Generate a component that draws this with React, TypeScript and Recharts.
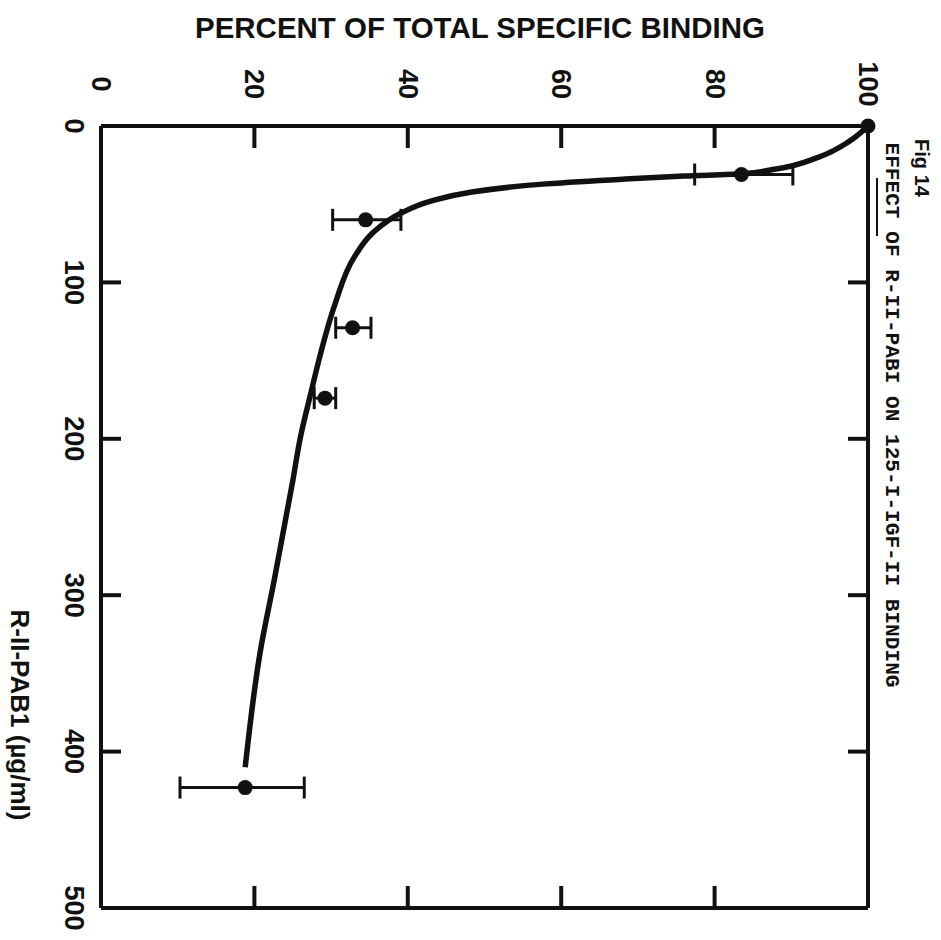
import React from 'react';
import { ComposedChart, Line, Scatter, XAxis, YAxis, ErrorBar } from 'recharts';

// Percent of total specific binding ticks (horizontal axis in the rotated figure)
const percentTicks = [0, 20, 40, 60, 80, 100];
// R-II-PAB1 concentration ticks (µg/ml, vertical axis)
const concTicks = [0, 100, 200, 300, 400, 500];

// Control point (no antibody)
const controlPoint = [{ conc: 0, pct: 100 }];

// Measured points with horizontal error bars [lower delta, upper delta]
const measuredConc = [31, 60, 129, 174, 423];
const measuredPct = [83.5, 34.5, 32.8, 29.2, 18.8];
const measuredErr: [number, number][] = [
  [6.1, 6.7],
  [4.3, 4.6],
  [2.2, 2.4],
  [1.4, 1.4],
  [8.5, 7.7],
];

// Hand-drawn fitted curve
const curveConc = [0, 10, 20, 27.5, 30.5, 32, 34, 37, 42.5, 48, 56, 68, 84, 114, 146, 170, 199, 227, 290, 335, 410];
const curvePct = [100, 97.5, 93.5, 88, 83.5, 76, 68, 58, 48, 43, 39, 35.5, 33, 30.5, 28.6, 27.4, 26, 25, 22.6, 20.8, 18.8];

const measured = measuredConc.map((c, i) => ({ conc: c, pct: measuredPct[i], err: measuredErr[i] }));
const curve = curveConc.map((c, i) => ({ conc: c, pct: curvePct[i] }));

const INK = '#111';
const LABEL_FONT = '"Liberation Sans", Arial, sans-serif';

const isInner = (v: number, ticks: number[]) => v !== ticks[0] && v !== ticks[ticks.length - 1];

const TopTick = (props: any) => {
  const { x, y, payload } = props;
  const v = payload.value;
  const ly = y - 42;
  return (
    <g>
      {isInner(v, percentTicks) && <line x1={x} y1={y} x2={x} y2={y + 22} stroke={INK} strokeWidth={4} />}
      <text
        x={x}
        y={ly}
        transform={`rotate(90, ${x}, ${ly})`}
        textAnchor="middle"
        dominantBaseline="central"
        fontFamily={LABEL_FONT}
        fontWeight="bold"
        fontSize={27}
        fill={INK}
      >
        {v}
      </text>
    </g>
  );
};

const BottomTick = (props: any) => {
  const { x, y, payload } = props;
  const v = payload.value;
  return (
    <g>
      {isInner(v, percentTicks) && <line x1={x} y1={y} x2={x} y2={y - 22} stroke={INK} strokeWidth={4} />}
    </g>
  );
};

const LeftTick = (props: any) => {
  const { x, y, payload } = props;
  const v = payload.value;
  const lx = x - 27;
  return (
    <g>
      {isInner(v, concTicks) && <line x1={x} y1={y} x2={x + 20} y2={y} stroke={INK} strokeWidth={4} />}
      <text
        x={lx}
        y={y}
        transform={`rotate(90, ${lx}, ${y})`}
        textAnchor="middle"
        dominantBaseline="central"
        fontFamily={LABEL_FONT}
        fontWeight="bold"
        fontSize={27}
        fill={INK}
      >
        {v}
      </text>
    </g>
  );
};

const RightTick = (props: any) => {
  const { x, y, payload } = props;
  const v = payload.value;
  return (
    <g>
      {isInner(v, concTicks) && <line x1={x} y1={y} x2={x - 20} y2={y} stroke={INK} strokeWidth={4} />}
    </g>
  );
};

const Dot = (p: any) => <circle cx={p.cx} cy={p.cy} r={7.5} fill={INK} />;
const NoShape = () => <g />;

export default function App() {
  const W = 941;
  const H = 940;
  return (
    <div style={{ position: 'absolute', left: 0, top: 0, width: W, height: H, background: '#fff' }}>
      <ComposedChart
        width={W}
        height={H}
        layout="vertical"
        margin={{ top: 86, left: 61, right: 43, bottom: 2 }}
      >
        <XAxis
          xAxisId="top"
          orientation="top"
          type="number"
          dataKey="pct"
          domain={[0, 100]}
          ticks={percentTicks}
          height={40}
          tickSize={0}
          tickMargin={0}
          tickLine={false}
          axisLine={{ stroke: INK, strokeWidth: 4 }}
          tick={<TopTick />}
          interval={0}
        />
        <XAxis
          xAxisId="bottom"
          orientation="bottom"
          type="number"
          dataKey="pct"
          domain={[0, 100]}
          ticks={percentTicks}
          height={30}
          tickSize={0}
          tickMargin={0}
          tickLine={false}
          axisLine={{ stroke: INK, strokeWidth: 4 }}
          tick={<BottomTick />}
          interval={0}
        />
        <YAxis
          yAxisId="left"
          orientation="left"
          type="number"
          dataKey="conc"
          domain={[0, 500]}
          ticks={concTicks}
          width={40}
          tickSize={0}
          tickMargin={0}
          tickLine={false}
          axisLine={{ stroke: INK, strokeWidth: 4 }}
          tick={<LeftTick />}
          interval={0}
        />
        <YAxis
          yAxisId="right"
          orientation="right"
          type="number"
          dataKey="conc"
          domain={[0, 500]}
          ticks={concTicks}
          width={30}
          tickSize={0}
          tickMargin={0}
          tickLine={false}
          axisLine={{ stroke: INK, strokeWidth: 4 }}
          tick={<RightTick />}
          interval={0}
        />
        <Scatter
          xAxisId="bottom"
          yAxisId="right"
          data={controlPoint}
          dataKey="pct"
          shape={NoShape}
          isAnimationActive={false}
        />
        <Line
          xAxisId="top"
          yAxisId="left"
          data={curve}
          dataKey="pct"
          type="monotone"
          stroke={INK}
          strokeWidth={5.5}
          dot={false}
          activeDot={false}
          isAnimationActive={false}
        />
        <Scatter
          xAxisId="top"
          yAxisId="left"
          data={measured}
          dataKey="pct"
          shape={Dot}
          isAnimationActive={false}
        >
          <ErrorBar dataKey="err" direction="x" width={11} strokeWidth={3} stroke={INK} />
        </Scatter>
        <Scatter
          xAxisId="top"
          yAxisId="left"
          data={controlPoint}
          dataKey="pct"
          shape={Dot}
          isAnimationActive={false}
        />
      </ComposedChart>
      <svg
        width={W}
        height={H}
        style={{ position: 'absolute', left: 0, top: 0, pointerEvents: 'none' }}
      >
        <text
          x={480}
          y={27}
          textAnchor="middle"
          dominantBaseline="central"
          fontFamily={LABEL_FONT}
          fontWeight="bold"
          fontSize={30}
          textLength={570}
          lengthAdjust="spacingAndGlyphs"
          fill={INK}
        >
          PERCENT OF TOTAL SPECIFIC BINDING
        </text>
        <text
          x={20}
          y={715}
          transform="rotate(90, 20, 715)"
          textAnchor="middle"
          dominantBaseline="central"
          fontFamily={LABEL_FONT}
          fontWeight="bold"
          fontSize={26}
          fill={INK}
        >
          R-II-PAB1 (µg/ml)
        </text>
        <text
          x={922}
          y={168}
          transform="rotate(90, 922, 168)"
          textAnchor="middle"
          dominantBaseline="central"
          fontFamily={LABEL_FONT}
          fontWeight="bold"
          fontSize={20}
          fill={INK}
        >
          Fig 14
        </text>
        <text
          x={891}
          y={415}
          transform="rotate(90, 891, 415)"
          textAnchor="middle"
          dominantBaseline="central"
          fontFamily='"Liberation Mono", "DejaVu Sans Mono", monospace'
          fontWeight="bold"
          fontSize={20}
          textLength={545}
          lengthAdjust="spacingAndGlyphs"
          fill={INK}
        >
          EFFECT OF R-II-PABI ON 125-I-IGF-II BINDING
        </text>
        <line x1={877} y1={178} x2={877} y2={236} stroke={INK} strokeWidth={2} />
      </svg>
    </div>
  );
}
